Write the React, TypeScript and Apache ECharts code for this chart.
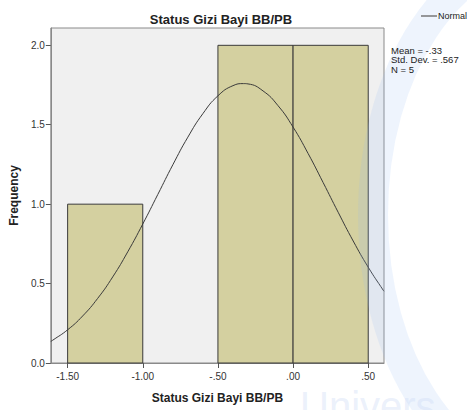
import React, { useEffect, useRef } from "react";
import * as echarts from "echarts";

const binEdges: [number, number][] = [
  [-1.5, -1.0],
  [-0.5, 0.0],
  [0.0, 0.5],
];
const binCounts = [1, 2, 2];

const curveX = [-1.612, -1.6, -1.5, -1.4, -1.3, -1.2, -1.1, -1.0, -0.9, -0.8, -0.7, -0.6, -0.5, -0.4, -0.33, -0.3, -0.2, -0.1, 0.0, 0.1, 0.2, 0.3, 0.4, 0.5, 0.6, 0.605];
const curveY = [0.136, 0.143, 0.209, 0.296, 0.407, 0.542, 0.700, 0.875, 1.061, 1.248, 1.422, 1.570, 1.682, 1.746, 1.759, 1.757, 1.713, 1.620, 1.485, 1.319, 1.136, 0.949, 0.768, 0.603, 0.458, 0.452];

const xTicks = [-1.5, -1.0, -0.5, 0.0, 0.5];
const yTicks = [0, 0.5, 1.0, 1.5, 2.0];
const statsLines = ["Mean = -.33", "Std. Dev. = .567", "N = 5"];
const legendLabel = "Normal";
const watermarkText = "Univers";

const fmtX = (v: number) => {
  const s = Math.abs(v).toFixed(2).replace(/^0/, "");
  return (v < 0 ? "-" : "") + s;
};

export default function App() {
  const ref = useRef<HTMLDivElement>(null);
  useEffect(() => {
    if (!ref.current) return;
    const chart = echarts.init(ref.current, null, { renderer: "svg" });
    const font = "Liberation Sans, Arial, sans-serif";
    chart.setOption({
      animation: false,
      backgroundColor: "#ffffff",
      textStyle: { fontFamily: font },
      title: {
        text: "Status Gizi Bayi BB/PB",
        left: 216,
        textAlign: "center",
        top: 8,
        textStyle: { fontSize: 13, fontWeight: "bold", color: "#222", fontFamily: font },
      },
      grid: {
        left: 48,
        top: 28,
        right: 83,
        bottom: 47,
        show: true,
        backgroundColor: "#f0f0f0",
        borderColor: "#8a8a8a",
        borderWidth: 1,
      },
      xAxis: {
        type: "value",
        min: -1.612,
        max: 0.605,
        name: "Status Gizi Bayi BB/PB",
        nameLocation: "middle",
        nameGap: 29,
        nameTextStyle: { fontSize: 12, fontWeight: "bold", color: "#222", fontFamily: font },
        axisLine: { show: true, onZero: false, lineStyle: { color: "#8a8a8a" } },
        axisTick: { show: true, customValues: xTicks, length: 5, lineStyle: { color: "#555" } },
        axisLabel: {
          customValues: xTicks,
          formatter: (v: number) => fmtX(v),
          fontSize: 10,
          color: "#333",
          margin: 8,
          fontFamily: font,
        },
        splitLine: { show: false },
      },
      yAxis: {
        type: "value",
        min: 0,
        max: 2.109,
        name: "Frequency",
        nameLocation: "middle",
        nameGap: 26,
        nameTextStyle: { fontSize: 12, fontWeight: "bold", color: "#222", fontFamily: font },
        axisLine: { show: true, onZero: false, lineStyle: { color: "#8a8a8a" } },
        axisTick: { show: true, customValues: yTicks, length: 5, lineStyle: { color: "#555" } },
        axisLabel: {
          customValues: yTicks,
          formatter: (v: number) => v.toFixed(1),
          fontSize: 10,
          color: "#333",
          margin: 6,
          fontFamily: font,
        },
        splitLine: { show: false },
      },
      graphic: [
        {
          type: "ellipse",
          shape: { cx: 545, cy: 215, rx: 172, ry: 262 },
          style: { fill: "none", stroke: "rgba(150,185,240,0.16)", lineWidth: 30 },
          z: 100,
          silent: true,
        },
        {
          type: "text",
          left: 300,
          top: 386,
          style: { text: watermarkText, fontSize: 40, fill: "rgba(205,218,245,0.4)", fontFamily: font },
          z: 100,
          silent: true,
        },
        {
          type: "line",
          shape: { x1: 421, y1: 16, x2: 437, y2: 16 },
          style: { stroke: "#777", lineWidth: 1.5 },
          z: 101,
        },
        {
          type: "text",
          left: 438,
          top: 11,
          style: { text: legendLabel, fontSize: 9, fill: "#222", fontFamily: font },
          z: 101,
        },
        ...statsLines.map((t, i) => ({
          type: "text",
          left: 391,
          top: 45 + i * 9.5,
          style: { text: t, fontSize: 9.5, fill: "#222", fontFamily: font },
          z: 101,
        })),
      ],
      series: [
        {
          type: "custom",
          name: "Histogram",
          renderItem: (params: any, api: any) => {
            const x0 = api.value(0);
            const x1 = api.value(1);
            const c = api.value(2);
            const p0 = api.coord([x0, c]);
            const p1 = api.coord([x1, 0]);
            return {
              type: "rect",
              shape: { x: p0[0], y: p0[1], width: p1[0] - p0[0], height: p1[1] - p0[1] },
              style: { fill: "#d4d0a0", stroke: "#3a3a3a", lineWidth: 1 },
            };
          },
          encode: { x: [0, 1], y: 2 },
          data: binEdges.map((e, i) => [e[0], e[1], binCounts[i]]),
          z: 1,
        },
        {
          type: "line",
          name: "Normal",
          data: curveX.map((x, i) => [x, curveY[i]]),
          smooth: true,
          showSymbol: false,
          lineStyle: { color: "#3a3a3a", width: 1 },
          z: 3,
        },
      ],
    });
    return () => chart.dispose();
  }, []);
  return <div ref={ref} style={{ position: "fixed", left: 0, top: 0, width: 467, height: 410 }} />;
}
